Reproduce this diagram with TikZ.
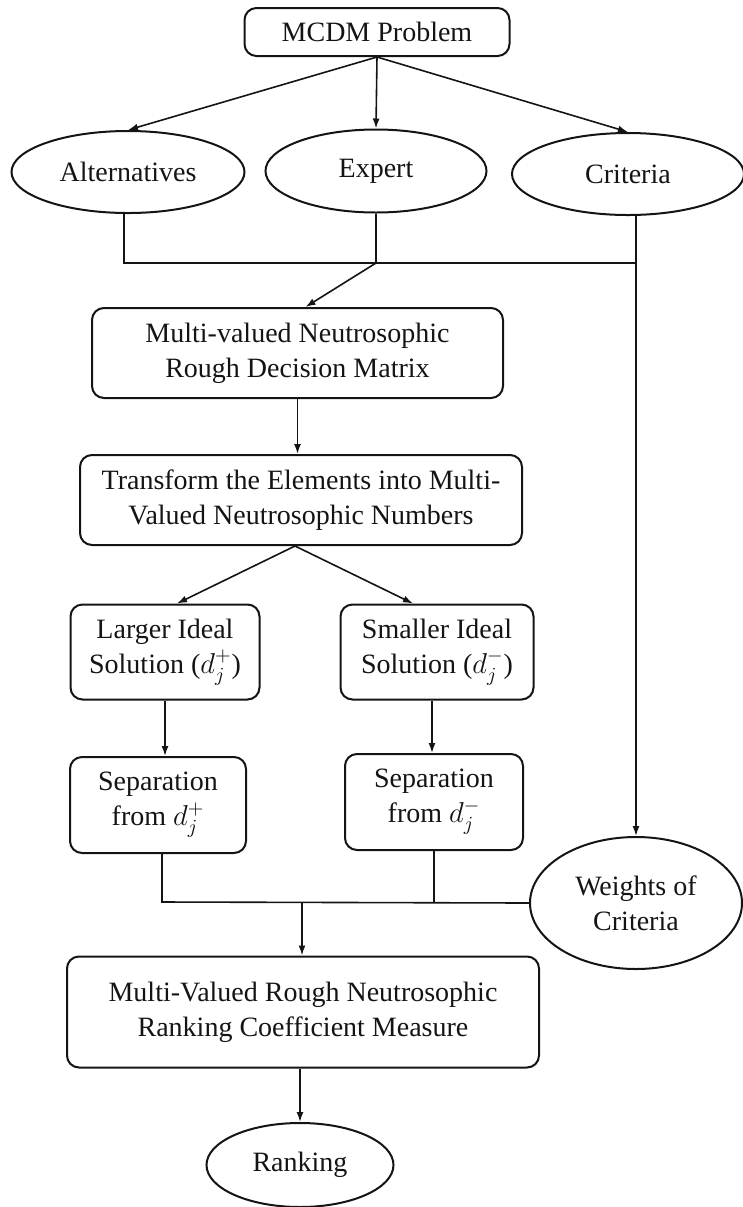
\documentclass[tikz,border=0pt]{standalone}
\usepackage{amsmath, amssymb}
\usepackage{fontspec}
\setmainfont{Liberation Serif}
\usepackage{xcolor}
\usepackage{tikz}
\usetikzlibrary{calc,shapes.geometric,arrows.meta}
\definecolor{primary}{RGB}{20, 20, 20}

\begin{document}
\begin{tikzpicture}[x=0.5pt,y=-0.5pt,
  every node/.style={font=\fontsize{14}{17.5}\selectfont,text=primary},
  box/.style={draw=primary,line width=1pt,rounded corners=6pt,align=center,inner sep=0pt},
  oval/.style={draw=primary,line width=1pt,ellipse,align=center,inner sep=0pt},
  link/.style={primary,line width=0.8pt},
  flow/.style={link,-{Latex[length=5pt,width=3.5pt]}}]
\useasboundingbox (0,0) rectangle (743,1207);
\node[box,minimum width=132.5pt,minimum height=24pt] (mcdm) at (377,32) {MCDM Problem};
\node[oval,minimum width=116.5pt,minimum height=41pt] (alt) at (128,172) {Alternatives};
\node[oval,minimum width=110.5pt,minimum height=41.5pt] (exp) at (376,171) {Expert};
\node[oval,minimum width=116pt,minimum height=41pt] (crit) at (628,174) {Criteria};
\node[box,minimum width=205.5pt,minimum height=45pt] (mvr) at (297.5,353) {Multi-valued Neutrosophic\\Rough Decision Matrix};
\node[box,minimum width=221pt,minimum height=45pt] (trans) at (301,500) {Transform the Elements into Multi-\\Valued Neutrosophic Numbers};
\node[box,minimum width=94.5pt,minimum height=47.5pt] (large) at (165,652) {Larger Ideal\\Solution ($d_j^+$)};
\node[box,minimum width=96.5pt,minimum height=47.5pt] (small) at (437,652) {Smaller Ideal\\Solution ($d_j^-$)};
\node[box,minimum width=88pt,minimum height=48pt] (seplarge) at (158,805) {Separation\\from $d_j^+$};
\node[box,minimum width=89pt,minimum height=48pt] (sepsmall) at (434,802) {Separation\\from $d_j^-$};
\node[oval,minimum width=106pt,minimum height=66pt] (weights) at (636,903) {Weights of\\Criteria};
\node[box,minimum width=236pt,minimum height=55.5pt] (coef) at (303,1012) {Multi-Valued Rough Neutrosophic\\Ranking Coefficient Measure};
\node[oval,minimum width=93.5pt,minimum height=42pt] (rank) at (300,1165) {Ranking};
\coordinate (top) at (376,263);
\coordinate (bot) at (302,902);
\draw[flow] (mcdm.south) -- (alt.north);
\draw[flow] (mcdm.south) -- (exp.north);
\draw[flow] (mcdm.south) -- (crit.north);
\draw[link] ($(alt.south)+(-4,0)$) -- ($(alt.south |- top)+(-4,0)$) -- (top -| weights.north);
\draw[link] (exp.south) -- (top);
\draw[flow] (crit.south -| weights.north) -- (weights.north);
\draw[flow] (top) -- ($(mvr.north)+(8,0)$);
\draw[flow] (mvr.south) -- (mvr.south |- trans.north);
\draw[flow] ($(trans.south)+(-6,0)$) -- ($(large.north)+(12,0)$);
\draw[flow] ($(trans.south)+(-6,0)$) -- ($(small.north)+(-24,0)$);
\draw[flow] (large.south) -- (seplarge.north -| large.south);
\draw[flow] ($(small.south)+(-5,0)$) -- ($(sepsmall.north)+(-2,0)$);
\draw[link] ($(seplarge.south)+(4,0)$) -- ($(seplarge.south |- bot)+(4,0)$) -- (weights.west);
\draw[link] (sepsmall.south) -- (sepsmall.south |- bot);
\draw[flow] (bot) -- (bot |- coef.north);
\draw[flow] (coef.south -| rank.north) -- (rank.north);
\end{tikzpicture}
\end{document}
